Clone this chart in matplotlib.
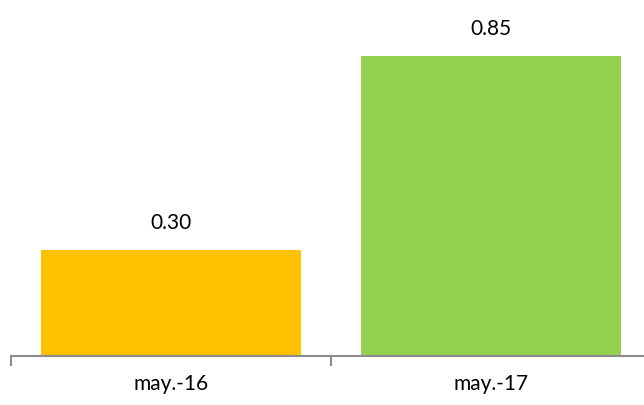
import matplotlib
matplotlib.use("Agg")
import matplotlib.pyplot as plt

categories = ["may.-16", "may.-17"]
values = [0.30, 0.85]
colors = ["#FFC000", "#92D050"]

plt.rcParams['font.family'] = ['Lato', 'DejaVu Sans']

fig = plt.figure(figsize=(6.44, 4.06), dpi=100)
ax = fig.add_axes([11/644, 49/406, 640/644, 353/406])
x = list(range(len(categories)))
bars = ax.bar(x, values, width=0.815, color=colors)
for xi, v in zip(x, values):
    ax.annotate(f"{v:.2f}", (xi, v), xytext=(0, 13), textcoords="offset points",
                ha="center", va="bottom", fontsize=15, color="#000000")
ax.set_xlim(-0.5, len(categories) - 0.5)
ax.set_ylim(0, 1.0)
ax.set_xticks(x)
ax.set_xticklabels(categories, fontsize=15)
ax.tick_params(axis='x', which='major', length=0, pad=12)
ax.set_xticks([i - 0.5 for i in range(len(categories) + 1)], minor=True)
ax.tick_params(axis='x', which='minor', length=7, width=1.5, color="#8C8C8C")
ax.set_yticks([])
for s in ["top", "right", "left"]:
    ax.spines[s].set_visible(False)
ax.spines["bottom"].set_color("#8C8C8C")
ax.spines["bottom"].set_linewidth(1.5)
fig.savefig("out.png", dpi=100)
